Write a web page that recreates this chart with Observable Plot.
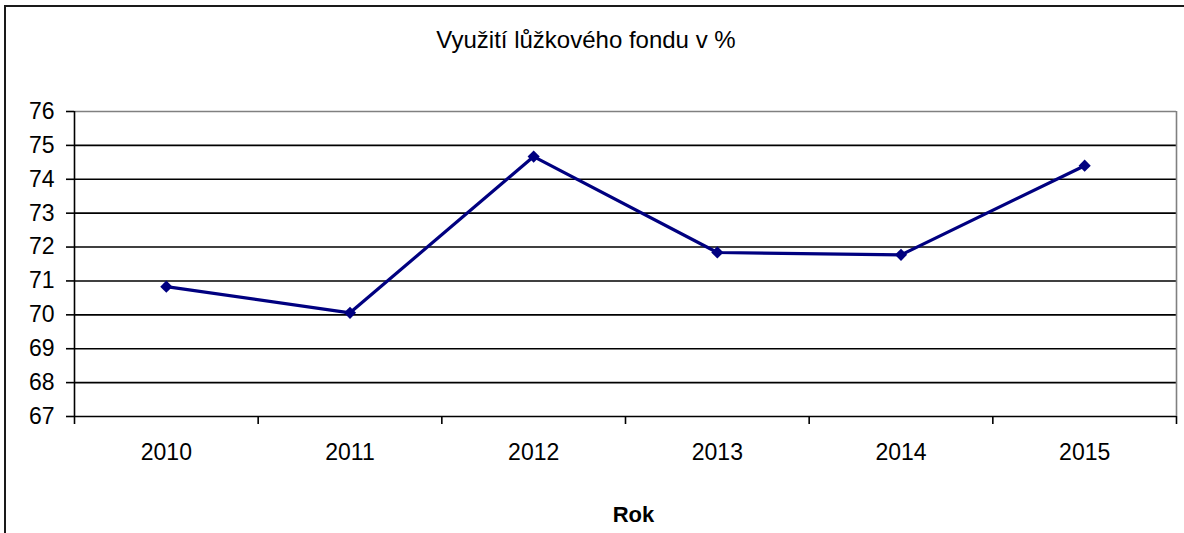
<!DOCTYPE html>
<html><head><meta charset="utf-8">
<script src="https://cdn.jsdelivr.net/npm/d3@7"></script>
<script src="https://cdn.jsdelivr.net/npm/@observablehq/plot@0.6"></script>
<style>
body{margin:0;background:#fff;font-family:"Liberation Sans",Arial,sans-serif;}
#wrap{position:relative;width:1184px;height:533px;overflow:hidden;}
#frame{position:absolute;left:4px;top:5px;width:1300px;height:600px;border-left:2px solid #1a1a1a;border-top:2px solid #1a1a1a;box-sizing:border-box;pointer-events:none;}
#title{height:80px;box-sizing:border-box;padding-top:28px;width:1172px;text-align:center;font-size:24px;line-height:24px;color:#000;}
#chart svg{display:block;}
</style></head>
<body>
<div id="wrap">
<div id="title">Využití lůžkového fondu v %</div>
<div id="chart"></div>
<div id="frame"></div>
</div>
<script>
const years = [2010, 2011, 2012, 2013, 2014, 2015];
const values = [70.83, 70.06, 74.67, 71.84, 71.77, 74.40];
const yTicks = [67, 68, 69, 70, 71, 72, 73, 74, 75, 76];
const xLabel = "Rok";

const data = years.map((year, i) => ({year, value: values[i]}));
const boundaries = years.map(y => y - 0.5).concat([years[years.length - 1] + 0.5]);
const xMin = d3.min(boundaries), xMax = d3.max(boundaries);
const yMax = d3.max(yTicks);

const chart = Plot.plot({
  width: 1184,
  height: 453,
  marginLeft: 74,
  marginRight: 8,
  marginTop: 31,
  marginBottom: 117,
  style: {fontFamily: "'Liberation Sans', Arial, sans-serif", fontSize: "23px", color: "#000", background: "transparent"},
  x: {type: "linear", domain: [xMin, xMax]},
  y: {domain: [d3.min(yTicks), yMax]},
  marks: [
    Plot.ruleY(yTicks.filter(d => d < yMax), {stroke: "#000", strokeWidth: 1.6}),
    Plot.ruleY([yMax], {stroke: "#808080", strokeWidth: 1.6}),
    Plot.ruleX([xMax], {stroke: "#808080", strokeWidth: 1.6}),
    Plot.ruleX([xMin], {stroke: "#000", strokeWidth: 1.6}),
    Plot.axisY({ticks: yTicks, tickSize: 8, tickPadding: 12, strokeWidth: 1.6, label: null, fontSize: 23}),
    Plot.axisX({ticks: boundaries, tickSize: 8, tickFormat: () => "", strokeWidth: 1.6, label: null}),
    Plot.axisX({ticks: years, tickSize: 0, tickPadding: 27, tickFormat: d => String(d), label: null, fontSize: 23}),
    Plot.text([xLabel], {frameAnchor: "bottom", dy: 105, dx: 8, fontWeight: "bold", fontSize: 22}),
    Plot.line(data, {x: "year", y: "value", stroke: "#000080", strokeWidth: 3.2}),
    Plot.dot(data, {x: "year", y: "value", symbol: "diamond2", fill: "#000080", stroke: "none", r: 5.5})
  ]
});
document.getElementById("chart").appendChild(chart);
</script>
</body></html>
